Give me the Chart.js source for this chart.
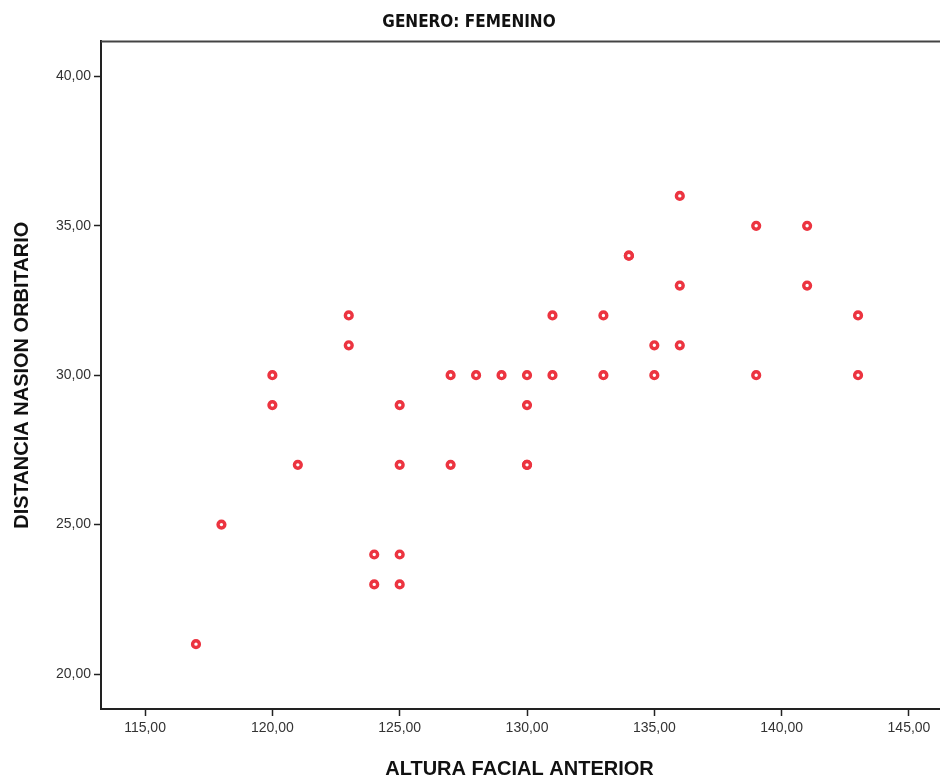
<!DOCTYPE html>
<html>
<head>
<meta charset="utf-8">
<script src="https://cdn.jsdelivr.net/npm/chart.js@4/dist/chart.umd.min.js"></script>
<style>
  html, body { margin: 0; padding: 0; background: #fff; }
  #wrap { width: 940px; height: 783px; }
</style>
</head>
<body>
<div id="wrap"><canvas id="scatter"></canvas></div>
<script>
// altura facial anterior (x) vs distancia nasion orbitario (y)
const alturaFacial = [117, 118, 120, 120, 121, 123, 123, 124, 124, 125, 125, 125, 125,
    127, 127, 128, 129, 130, 130, 130, 130, 131, 131, 133, 133, 134, 134, 135, 135,
    136, 136, 136, 139, 139, 141, 141, 143, 143];
const distanciaNasion = [21, 25, 30, 29, 27, 32, 31, 24, 23, 29, 27, 24, 23,
    30, 27, 30, 30, 30, 29, 27, 27, 32, 30, 32, 30, 34, 34, 31, 30,
    36, 33, 31, 35, 30, 35, 33, 32, 30];
const xTicks = [115, 120, 125, 130, 135, 140, 145];
const yTicks = [20, 25, 30, 35, 40];

const points = alturaFacial.map((x, i) => ({ x: x, y: distanciaNasion[i] }));
const fmt = v => v.toFixed(2).replace(".", ",");

// top frame line of the plot, and bottom axis carried to the edge
const frameLines = {
    id: "frameLines",
    afterDraw(chart) {
        const { ctx, chartArea } = chart;
        ctx.save();
        ctx.strokeStyle = "#444";
        ctx.lineWidth = 2;
        ctx.beginPath();
        ctx.moveTo(chartArea.left, chartArea.top);
        ctx.lineTo(chart.width, chartArea.top);
        ctx.stroke();
        ctx.strokeStyle = "#222";
        ctx.beginPath();
        ctx.moveTo(chartArea.right, chartArea.bottom);
        ctx.lineTo(chart.width, chartArea.bottom);
        ctx.stroke();
        ctx.restore();
    }
};

new Chart(document.getElementById("scatter"), {
    type: "scatter",
    data: {
        datasets: [{
            data: points,
            pointRadius: 3.4,
            pointHoverRadius: 3.4,
            pointBorderWidth: 3.4,
            pointBorderColor: "#ec3440",
            pointBackgroundColor: "#ffffff"
        }]
    },
    options: {
        responsive: true,
        maintainAspectRatio: false,
        animation: false,
        layout: { autoPadding: false, padding: { top: 0, right: 2, bottom: 0, left: 0 } },
        plugins: {
            legend: { display: false },
            tooltip: { enabled: false },
            title: {
                display: true,
                text: "GENERO: FEMENINO",
                color: "#111",
                font: { family: "'Liberation Sans Narrow', 'DejaVu Sans Condensed', Arial", size: 17, weight: "bold", lineHeight: 1.2 },
                padding: { top: 12, bottom: 9 }
            }
        },
        scales: {
            x: {
                type: "linear",
                min: 113.27,
                max: 146.14,
                afterFit: s => { s.height = 74; },
                afterBuildTicks: s => { s.ticks = xTicks.map(v => ({ value: v })); },
                grid: { drawOnChartArea: false, tickLength: 7, tickColor: "#222", tickWidth: 1.5 },
                border: { color: "#222", width: 2 },
                ticks: {
                    callback: fmt,
                    color: "#333",
                    padding: 4,
                    maxRotation: 0,
                    font: { family: "Arial, 'Liberation Sans'", size: 14 }
                },
                title: {
                    display: true,
                    text: "ALTURA FACIAL ANTERIOR",
                    color: "#111",
                    font: { family: "Arial, 'Liberation Sans'", size: 20, weight: "bold" },
                    padding: { top: 8, bottom: 2 }
                }
            },
            y: {
                type: "linear",
                min: 18.83,
                max: 41.17,
                afterFit: s => { s.width = 101; },
                afterBuildTicks: s => { s.ticks = yTicks.map(v => ({ value: v })); },
                grid: { drawOnChartArea: false, tickLength: 7, tickColor: "#222", tickWidth: 1.5 },
                border: { color: "#222", width: 2 },
                ticks: {
                    callback: fmt,
                    color: "#333",
                    padding: 3,
                    font: { family: "Arial, 'Liberation Sans'", size: 14 }
                },
                title: {
                    display: true,
                    text: "DISTANCIA NASION ORBITARIO",
                    color: "#111",
                    font: { family: "Arial, 'Liberation Sans'", size: 20, weight: "bold" },
                    padding: { top: 10, bottom: 4 }
                }
            }
        }
    },
    plugins: [frameLines]
});
</script>
</body>
</html>
